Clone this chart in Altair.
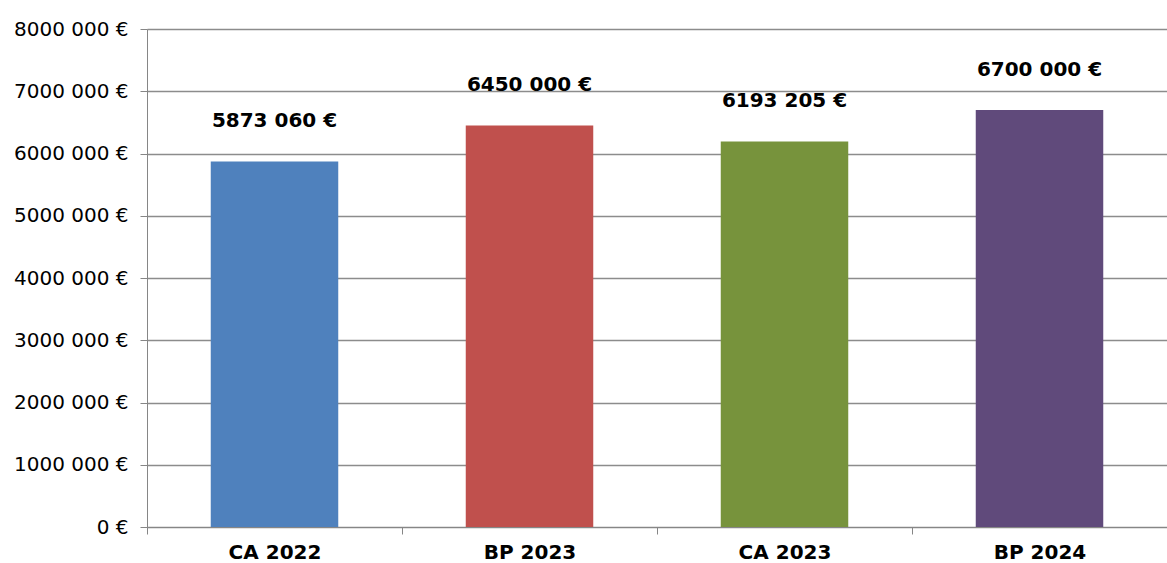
import altair as alt
import pandas as pd

categories = ["CA 2022", "BP 2023", "CA 2023", "BP 2024"]
values = [5873060, 6450000, 6193205, 6700000]
colors = ["#4F81BD", "#C0504D", "#77933C", "#604A7B"]

df = pd.DataFrame({"cat": categories, "val": values})

FONT = "DejaVu Sans"
fmt = "datum.{f} == 0 ? '0 €' : floor(datum.{f}/1000) + ' ' + slice('00' + (datum.{f} % 1000), -3) + ' €'"

x = alt.X("cat:N", sort=categories, title=None,
          scale=alt.Scale(paddingInner=0, paddingOuter=0),
          axis=alt.Axis(labelAngle=0, labelFont=FONT, labelFontSize=20, labelFontWeight="bold",
                        labelColor="black", tickBand="extent", tickSize=7, tickColor="#868686",
                        domainColor="#868686", labelPadding=8, grid=False))

y = alt.Y("val:Q", title=None,
          scale=alt.Scale(domain=[0, 8000000], nice=False),
          axis=alt.Axis(values=[i * 1000000 for i in range(9)], labelExpr=fmt.format(f="value"),
                        labelFont=FONT, labelFontSize=20, labelColor="black",
                        tickSize=7, tickColor="#868686", domainColor="#868686",
                        gridColor="#8c8c8c", gridWidth=1.3, labelPadding=12))

bars = alt.Chart(df).mark_bar(width=alt.RelativeBandSize(0.5)).encode(
    x=x, y=y,
    color=alt.Color("cat:N", scale=alt.Scale(domain=categories, range=colors), legend=None),
)

labels = alt.Chart(df).transform_calculate(
    lab=fmt.format(f="val")
).mark_text(font=FONT, fontSize=20, fontWeight="bold", color="black", dy=-40, baseline="middle").encode(
    x=alt.X("cat:N", sort=categories), y="val:Q", text="lab:N"
)

chart = (bars + labels).properties(
    width=1020, height=498,
    autosize=alt.AutoSizeParams(type="none"),
    padding={"left": 147, "top": 29, "right": 0, "bottom": 36},
).configure_view(stroke=None).configure(background="white")

chart.save("out.html", embed_options={"renderer": "svg", "actions": False})
